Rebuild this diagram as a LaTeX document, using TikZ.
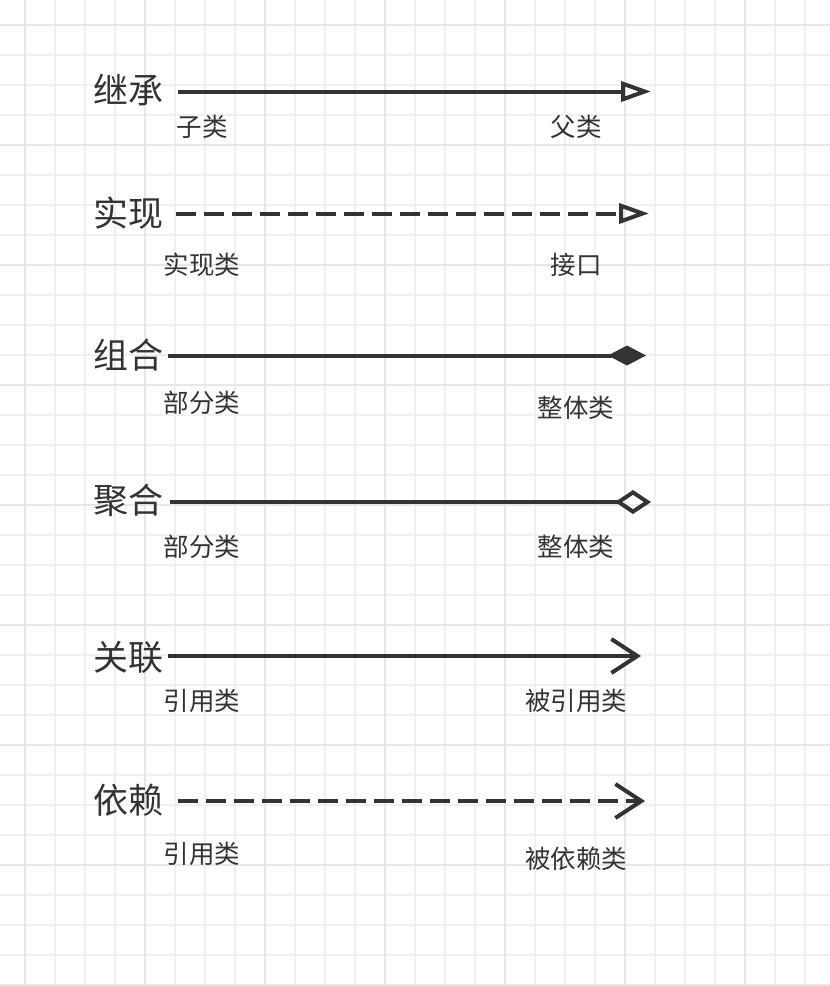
\documentclass[tikz,border=0pt]{standalone}
\usepackage{fontspec}
\newfontfamily\cjk{Noto Sans CJK SC}
\usetikzlibrary{arrows.meta}
\definecolor{ink}{HTML}{333333}
\definecolor{gridminor}{HTML}{F0F0F0}
\definecolor{gridmajor}{HTML}{E7E7E7}
\begin{document}
\begin{tikzpicture}[x=1bp,y=-1bp,
  title/.style={inner sep=0pt, text=ink, font=\cjk\fontsize{35bp}{40bp}\selectfont},
  role/.style={inner sep=0pt, text=ink, font=\cjk\fontsize{25.5bp}{30bp}\selectfont},
  rel/.style={draw=ink, line width=4bp},
  dashrel/.style={rel, dash pattern=on 20bp off 8bp},
]
\useasboundingbox[fill=white] (0,0) rectangle (830,986);
% grid
\foreach \i in {0,...,27} {
  \draw[gridminor, line width=1.2bp] ({25+30*\i},0) -- ({25+30*\i},986);
}
\foreach \i in {0,...,32} {
  \draw[gridminor, line width=1.2bp] (0,{25+30*\i}) -- (830,{25+30*\i});
}
\foreach \i in {0,...,6} {
  \draw[gridmajor, line width=2bp] ({25+120*\i},0) -- ({25+120*\i},986);
}
\foreach \i in {0,...,8} {
  \draw[gridmajor, line width=2bp] (0,{25+120*\i}) -- (830,{25+120*\i});
}

% titles
\node[title] (t1) at (128,90) {继承};
\node[title] (t2) at (128,213) {实现};
\node[title] (t3) at (128,355) {组合};
\node[title] (t4) at (128,500) {聚合};
\node[title] (t5) at (128,657) {关联};
\node[title] (t6) at (128,800) {依赖};

% role labels
\node[role] (a1) at (202,127) {子类};
\node[role] (b1) at (576,127) {父类};
\node[role] (a2) at (202,265) {实现类};
\node[role] (b2) at (576,265) {接口};
\node[role] (a3) at (202,403) {部分类};
\node[role] (b3) at (576,408) {整体类};
\node[role] (a4) at (202,547) {部分类};
\node[role] (b4) at (576,547) {整体类};
\node[role] (a5) at (202,701) {引用类};
\node[role] (b5) at (576,701) {被引用类};
\node[role] (a6) at (202,854) {引用类};
\node[role] (b6) at (576,859) {被依赖类};

% line end points
\coordinate (s1) at (178,91.5);  \coordinate (e1) at (651,91.5);
\coordinate (s2) at (176,213.5); \coordinate (e2) at (649,213.5);
\coordinate (s3) at (168,355.5); \coordinate (e3) at (646,355.5);
\coordinate (s4) at (170,502); \coordinate (e4) at (651,502);
\coordinate (s5) at (168,656); \coordinate (e5) at (641,656);
\coordinate (s6) at (178,801); \coordinate (e6) at (645,801);

\draw[rel, -{Triangle[open, length=30bp, width=20bp]}] (s1) -- (e1);
\draw[dashrel, -{Triangle[open, length=30bp, width=20bp]}] (s2) -- (e2);
\draw[rel, -{Diamond[length=38bp, width=20bp]}] (s3) -- (e3);
\draw[rel, -{Diamond[open, length=36bp, width=24bp]}] (s4) -- (e4);
\draw[rel, -{Straight Barb[length=26bp, width=34bp]}] (s5) -- (e5);
\draw[dashrel, -{Straight Barb[length=26bp, width=34bp]}] (s6) -- (e6);
\end{tikzpicture}
\end{document}
